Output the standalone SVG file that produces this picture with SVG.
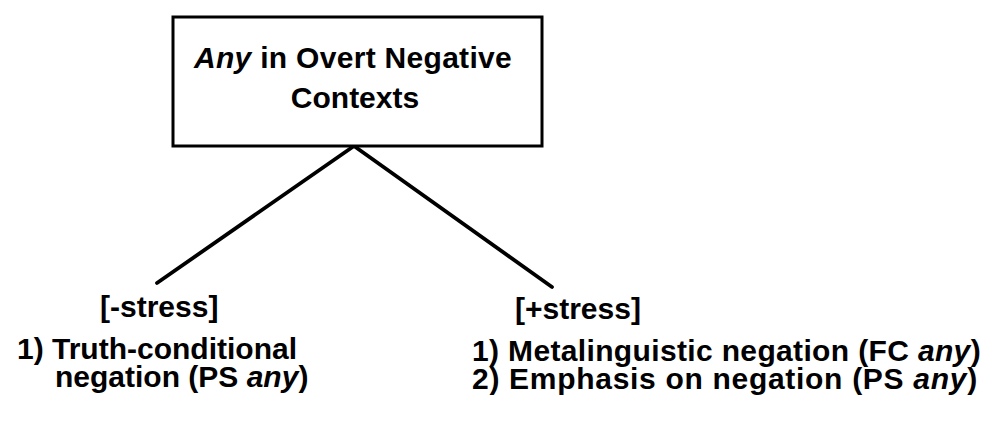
<svg xmlns="http://www.w3.org/2000/svg" width="985" height="432" viewBox="0 0 985 432">
<style>
.t{font-family:"Liberation Sans",Arial,sans-serif;font-weight:bold;font-size:30px;fill:#000}
.i{font-style:italic}
.ln{stroke:#000;stroke-width:3.8;stroke-linecap:round;fill:none}
</style>
<rect width="985" height="432" fill="#fff"/>
<g id="connectors">
<line class="ln" x1="354" y1="146" x2="157" y2="283"/>
<line class="ln" x1="354" y1="146" x2="552" y2="287"/>
</g>
<g id="root">
<rect x="173" y="17" width="369" height="129" fill="#fff" stroke="#000" stroke-width="3"/>
<text class="t" x="353" y="68" text-anchor="middle" letter-spacing="0.3"><tspan class="i">Any</tspan> in Overt Negative</text>
<text class="t" x="355" y="108" text-anchor="middle">Contexts</text>
</g>
<g id="minus">
<text class="t" x="100" y="317">[-stress]</text>
<text class="t" x="17" y="359">1) Truth-conditional</text>
<text class="t" x="55" y="387">negation (PS <tspan class="i">any</tspan>)</text>
</g>
<g id="plus">
<text class="t" x="515" y="319">[+stress]</text>
<text class="t" x="472" y="361" letter-spacing="0.35">1) Metalinguistic negation (FC <tspan class="i">any</tspan>)</text>
<text class="t" x="472" y="389" letter-spacing="0.7">2) Emphasis on negation (PS <tspan class="i">any</tspan>)</text>
</g>
</svg>
